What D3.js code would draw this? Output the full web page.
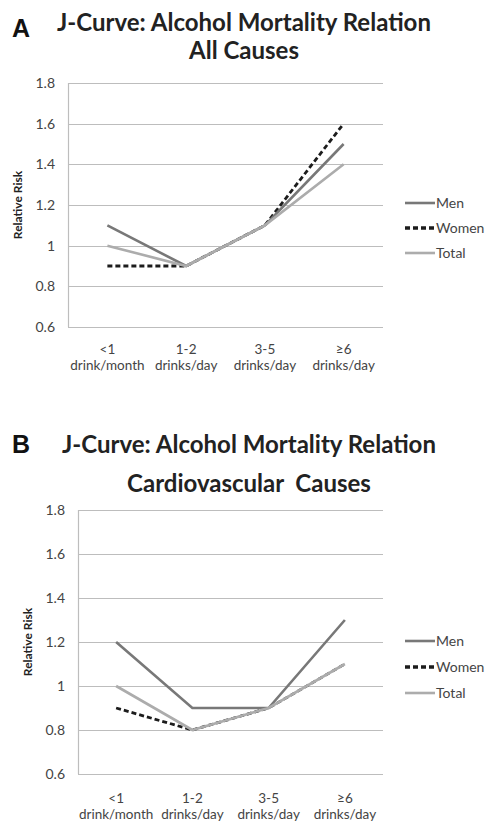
<!DOCTYPE html>
<html><head><meta charset="utf-8">
<script src="https://cdn.jsdelivr.net/npm/d3@7"></script>
<style>body{margin:0;background:#fff}svg{display:block}</style>
</head><body>
<script>
const categories = ["<1|drink/month", "1-2|drinks/day", "3-5|drinks/day", "\u22656|drinks/day"];
const yTicks = [0.6, 0.8, 1, 1.2, 1.4, 1.6, 1.8];
const seriesNames = ["Men", "Women", "Total"];
// Panel A: All causes
const menA   = [1.1, 0.9, 1.1, 1.5];
const womenA = [0.9, 0.9, 1.1, 1.6];
const totalA = [1.0, 0.9, 1.1, 1.4];
// Panel B: Cardiovascular causes
const menB   = [1.2, 0.9, 0.9, 1.3];
const womenB = [0.9, 0.8, 0.9, 1.1];
const totalB = [1.0, 0.8, 0.9, 1.1];

const W = 490, H = 837;
const svg = d3.select("body").append("svg").attr("width", W).attr("height", H);
const FONT = "Lato, 'Open Sans', sans-serif";
const styles = {
  Men:   {stroke: "#787878", dash: null, width: 2.6},
  Women: {stroke: "#1c1c1c", dash: "5,3", width: 2.8},
  Total: {stroke: "#acacac", dash: null, width: 2.6}
};

function panel(o) {
  const g = svg.append("g");
  g.append("text").attr("x", o.letterX).attr("y", o.letterY)
    .attr("font-family", "'Liberation Sans', Arial, sans-serif").attr("font-weight", "bold")
    .attr("font-size", 25).attr("fill", "#111").text(o.letter);
  o.title.forEach((t, i) => {
    g.append("text").attr("x", o.titleX).attr("y", o.titleY[i]).attr("text-anchor", "middle")
      .attr("font-family", FONT).attr("font-weight", "bold").attr("font-size", 24)
      .attr("fill", "#222").attr("xml:space", "preserve").style("white-space", "pre").text(t);
  });
  const x = d3.scaleBand().domain(categories).range([o.left, o.right]);
  const y = d3.scaleLinear().domain([0.6, 1.8]).range([o.bottom, o.top]);
  // gridlines
  g.append("g").selectAll("line").data(yTicks).join("line")
    .attr("x1", o.left).attr("x2", o.right)
    .attr("y1", d => Math.round(y(d)) + 0.5).attr("y2", d => Math.round(y(d)) + 0.5)
    .attr("stroke", "#bdbdbd").attr("stroke-width", 1.2);
  g.append("line").attr("x1", o.left + 0.5).attr("x2", o.left + 0.5)
    .attr("y1", y(1.8)).attr("y2", y(0.6)).attr("stroke", "#bdbdbd").attr("stroke-width", 1.2);
  // y tick labels
  const yAxis = d3.axisLeft(y).tickValues(yTicks).tickSize(0).tickPadding(13)
    .tickFormat(d => d3.format("")(+d.toFixed(1)));
  const ya = g.append("g").attr("transform", `translate(${o.left},0)`).call(yAxis);
  ya.select(".domain").remove();
  ya.selectAll("text").attr("font-family", FONT).attr("font-size", 14).attr("fill", "#444");
  // x tick labels
  const xa = g.append("g").attr("transform", `translate(0,${o.bottom})`)
    .call(d3.axisBottom(x).tickSize(0).tickFormat(""));
  xa.select(".domain").remove();
  xa.selectAll(".tick").each(function(d) {
    const parts = d.split("|");
    const t = d3.select(this).append("text").attr("text-anchor", "middle")
      .attr("font-family", FONT).attr("font-size", 13.5).attr("fill", "#444");
    parts.forEach((p, i) => t.append("tspan").attr("x", 0).attr("y", o.xLab[i]).text(p));
  });
  // y title
  g.append("text").attr("transform", `translate(${o.yTitleX},${(y(0.6) + y(1.8)) / 2}) rotate(-90)`)
    .attr("text-anchor", "middle").attr("font-family", FONT).attr("font-weight", "bold")
    .attr("font-size", 12).attr("fill", "#222").text("Relative Risk");
  // lines: women bottom, men, total on top
  const line = d3.line().x((d, i) => x(categories[i]) + x.bandwidth() / 2).y(d => y(d));
  const drawOrder = ["Women", "Men", "Total"];
  drawOrder.forEach(n => {
    const s = styles[n];
    g.append("path").datum(o.data[n]).attr("d", line).attr("fill", "none")
      .attr("stroke", s.stroke).attr("stroke-width", s.width)
      .attr("stroke-dasharray", s.dash).attr("stroke-linejoin", "miter");
  });
  // legend
  seriesNames.forEach((n, i) => {
    const s = styles[n];
    const ly = o.legY[i];
    g.append("line").attr("x1", 405).attr("x2", 435).attr("y1", ly).attr("y2", ly)
      .attr("stroke", s.stroke).attr("stroke-width", n === "Women" ? 3.4 : 2.6)
      .attr("stroke-dasharray", s.dash);
    g.append("text").attr("x", 436).attr("y", ly).attr("dy", "0.35em")
      .attr("font-family", FONT).attr("font-size", 14).attr("fill", "#444").text(n);
  });
}

panel({
  letter: "A", letterX: 12, letterY: 37,
  title: ["J-Curve: Alcohol Mortality Relation", "All Causes"], titleX: 244, titleY: [31, 59],
  left: 68, right: 383, top: 83, bottom: 327,
  xLab: [27, 43], yTitleX: 22,
  legY: [203, 228, 253],
  data: {Men: menA, Women: womenA, Total: totalA}
});
panel({
  letter: "B", letterX: 12, letterY: 453,
  title: ["J-Curve: Alcohol Mortality Relation", "Cardiovascular  Causes"], titleX: 249, titleY: [453, 492],
  left: 78, right: 383, top: 510, bottom: 774,
  xLab: [29, 45], yTitleX: 32,
  legY: [641, 667, 693],
  data: {Men: menB, Women: womenB, Total: totalB}
});
</script>
</body></html>
